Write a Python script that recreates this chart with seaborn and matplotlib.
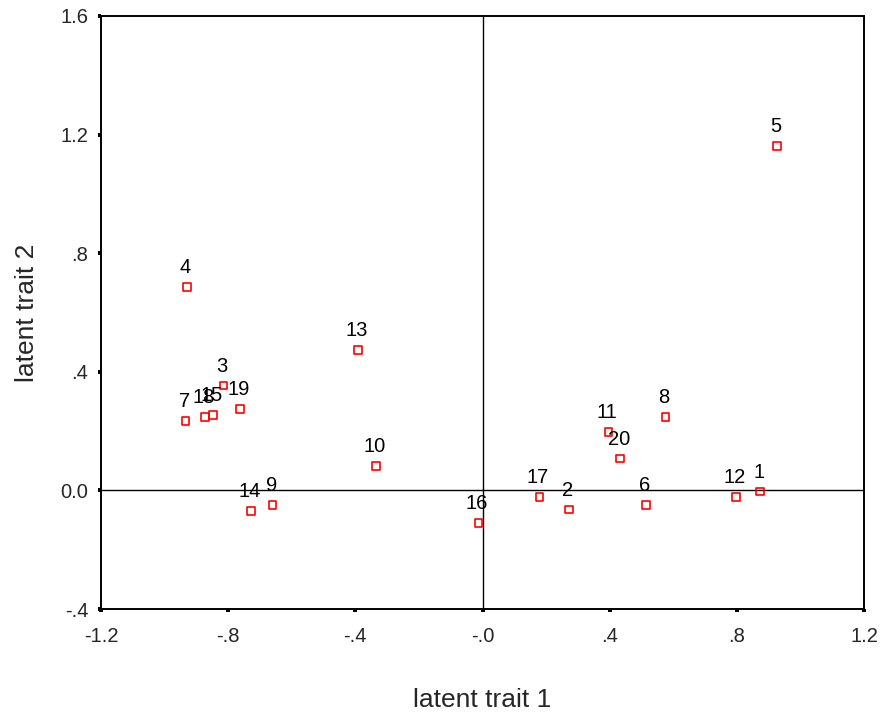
import matplotlib
matplotlib.use("Agg")
import matplotlib.pyplot as plt
import seaborn as sns
import pandas as pd

# punto ids and their coordinates on the two latent traits
ids = [str(i) for i in range(1, 21)]
trait1 = [0.873, 0.272, -0.815, -0.930, 0.927, 0.514, -0.934, 0.575, -0.660, -0.335,
          0.396, 0.797, -0.392, -0.729, -0.847, -0.013, 0.179, -0.872, -0.762, 0.433]
trait2 = [-0.004, -0.064, 0.354, 0.686, 1.162, -0.050, 0.235, 0.248, -0.050, 0.082,
          0.196, -0.023, 0.474, -0.070, 0.254, -0.110, -0.023, 0.248, 0.275, 0.108]

xticks = [-1.2, -0.8, -0.4, 0.0, 0.4, 0.8, 1.2]
xtick_labels = ['-1.2', '-.8', '-.4', '-.0', '.4', '.8', '1.2']
yticks = [-0.4, 0.0, 0.4, 0.8, 1.2, 1.6]
ytick_labels = ['-.4', '0.0', '.4', '.8', '1.2', '1.6']

df = pd.DataFrame({'id': ids, 'trait1': trait1, 'trait2': trait2})

sns.set_style('white')
plt.rcParams['font.family'] = ['Liberation Sans', 'DejaVu Sans']

fig = plt.figure(figsize=(8.83, 7.16), dpi=100)
ax = fig.add_axes([0.1144, 0.1494, 0.8641, 0.8283])

sns.scatterplot(data=df, x='trait1', y='trait2', marker='s', s=30, ax=ax,
                color='red', linewidth=1.2, zorder=3, legend=False)
pts = ax.collections[0]
pts.set_facecolor('none')
pts.set_edgecolor('red')

for _, r in df.iterrows():
    ax.annotate(r['id'], (r['trait1'], r['trait2']), xytext=(-1, 10),
                textcoords='offset points', ha='center', va='baseline',
                fontsize=14.5, color='black')

ax.axhline(0, color='black', lw=1.0, zorder=1)
ax.axvline(0, color='black', lw=1.0, zorder=1)

ax.set_xlim(-1.2, 1.2)
ax.set_ylim(-0.4, 1.6)
ax.set_xticks(xticks)
ax.set_xticklabels(xtick_labels)
ax.set_yticks(yticks)
ax.set_yticklabels(ytick_labels)
ax.tick_params(axis='both', direction='out', length=2.2, width=2.9,
               color='black', labelsize=14.5, pad=7)
ax.tick_params(axis='x', pad=11)
ax.tick_params(bottom=True, left=True)

for sp in ax.spines.values():
    sp.set_visible(True)
    sp.set_color('black')
    sp.set_linewidth(1.4)

ax.set_xlabel('latent trait 1', fontsize=19, labelpad=30)
ax.set_ylabel('latent trait 2', fontsize=19, labelpad=15)

fig.savefig('out.png', dpi=100)
